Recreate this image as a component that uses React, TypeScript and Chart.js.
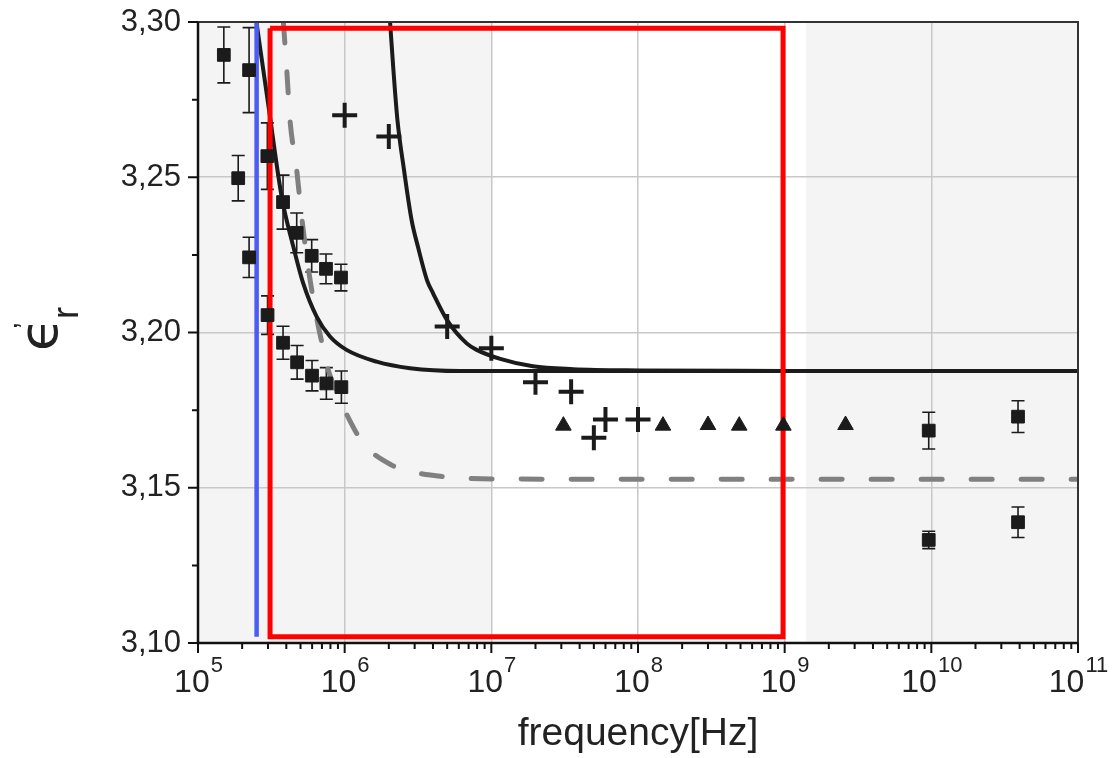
import React, { useEffect, useRef } from 'react';
import { Chart, registerables } from 'chart.js';
Chart.register(...registerables);

// ---------- axes ----------
const decadeTicks = [1e5, 1e6, 1e7, 1e8, 1e9, 1e10, 1e11];
const decadeExponents = ['5', '6', '7', '8', '9', '10', '11'];
const yTickValues = [3.10, 3.15, 3.20, 3.25, 3.30];
const yMinorValues = [3.125, 3.175, 3.225, 3.275];

// shaded background bands (frequency)
const shadedStart = [1e5, 1.4e9];
const shadedEnd = [1e7, 1e11];

// ---------- measured points ----------
const squareFreq = [1.5e5, 2.23e5, 1.88e5, 2.97e5, 3.8e5, 4.71e5, 5.96e5, 7.46e5, 9.44e5,
  2.23e5, 2.98e5, 3.8e5, 4.74e5, 5.99e5, 7.5e5, 9.5e5, 9.6e9, 3.9e10, 9.6e9, 3.9e10];
const squareValue = [3.2894, 3.2845, 3.2497, 3.2568, 3.242, 3.2321, 3.2247, 3.2205, 3.2177,
  3.2242, 3.2056, 3.1967, 3.1904, 3.1861, 3.1836, 3.1824, 3.1684, 3.1729, 3.1332, 3.1389];
const squareError = [0.009, 0.0137, 0.0073, 0.0107, 0.0087, 0.0064, 0.0052, 0.0048, 0.0043,
  0.0065, 0.0062, 0.0053, 0.0054, 0.0049, 0.0051, 0.0052, 0.0059, 0.0051, 0.0028, 0.0049];

const crossFreq = [1e6, 2e6, 5e6, 1e7, 2e7, 3.5e7, 5e7, 6e7, 1e8];
const crossValue = [3.270, 3.2631, 3.2019, 3.1949, 3.184, 3.1809, 3.1661, 3.172, 3.172];

const triangleFreq = [3.1e7, 1.48e8, 3.0e8, 4.9e8, 9.8e8, 2.6e9];
const triangleValue = [3.170, 3.170, 3.1702, 3.170, 3.170, 3.1702];

// ---------- model curves ----------
const curve1Freq = [2.51e5, 3.05e5, 3.72e5, 4.47e5, 5.22e5, 6.44e5, 7.94e5, 1.03e6, 1.65e6, 2.79e6, 6.11e6, 3.16e7, 1e9, 1e11];
const curve1Value = [3.2996, 3.2717, 3.2437, 3.2276, 3.2158, 3.2051, 3.1987, 3.1944, 3.1906, 3.1885, 3.1876, 3.1876, 3.1876, 3.1876];

const curve2Freq = [2.04e6, 2.15e6, 2.29e6, 2.54e6, 2.86e6, 3.16e6, 3.64e6, 4.0e6, 4.99e6, 6.79e6, 7.95e6, 1.15e7, 1.92e7, 3.61e7, 1.03e8, 1e9];
const curve2Value = [3.30, 3.2845, 3.2684, 3.2523, 3.2362, 3.2276, 3.2169, 3.2127, 3.2040, 3.1965, 3.1944, 3.1915, 3.1891, 3.1882, 3.1878, 3.1876];

const dashedFreq = [3.82e5, 4.03e5, 4.24e5, 4.71e5, 5.09e5, 5.65e5, 6.45e5, 6.97e5, 7.73e5, 9.01e5, 1.08e6, 1.34e6, 2.09e6, 3.02e6, 4.71e6, 1.03e7, 1e11];
const dashedValue = [3.30, 3.2845, 3.2684, 3.2523, 3.2373, 3.2207, 3.2046, 3.1970, 3.1879, 3.1799, 3.1718, 3.1643, 3.1573, 3.1549, 3.1536, 3.1528, 3.1527];

// ---------- markers (box and vertical line) ----------
const redBoxFreq = [3.1e5, 9.75e8, 9.75e8, 3.1e5, 3.1e5];
const redBoxValue = [3.298, 3.298, 3.102, 3.102, 3.298];
const blueLineFreq = [2.51e5, 2.51e5];
const blueLineValue = [3.30, 3.102];

const pts = (xs: number[], ys: number[]) => xs.map((x, i) => ({ x, y: ys[i] }));

const INK = '#1b1b1b';
const FONT = '"Liberation Sans", Arial, Helvetica, sans-serif';

const decorPlugin = {
  id: 'decor',
  beforeDraw(chart: any) {
    const { ctx, chartArea: a, scales } = chart;
    const xs = scales.x;
    ctx.save();
    ctx.fillStyle = '#f4f4f4';
    shadedStart.forEach((s, i) => {
      const x1 = xs.getPixelForValue(s);
      const x2 = xs.getPixelForValue(shadedEnd[i]);
      ctx.fillRect(x1, a.top, x2 - x1, a.bottom - a.top);
    });
    ctx.restore();
  },
  beforeDatasetsDraw(chart: any) {
    const { ctx, scales } = chart;
    const xs = scales.x, ys = scales.y;
    ctx.save();
    ctx.strokeStyle = INK;
    ctx.lineWidth = 1.6;
    squareFreq.forEach((f, i) => {
      const x = xs.getPixelForValue(f);
      const y1 = ys.getPixelForValue(squareValue[i] + squareError[i]);
      const y2 = ys.getPixelForValue(squareValue[i] - squareError[i]);
      ctx.beginPath();
      ctx.moveTo(x, y1); ctx.lineTo(x, y2);
      ctx.moveTo(x - 6.5, y1); ctx.lineTo(x + 6.5, y1);
      ctx.moveTo(x - 6.5, y2); ctx.lineTo(x + 6.5, y2);
      ctx.stroke();
    });
    ctx.restore();
  },
  afterDraw(chart: any) {
    const { ctx, chartArea: a, scales } = chart;
    const xs = scales.x, ys = scales.y;
    ctx.save();
    // frame
    ctx.strokeStyle = '#333';
    ctx.lineWidth = 2;
    ctx.beginPath();
    ctx.moveTo(a.left, a.top); ctx.lineTo(a.right, a.top); ctx.lineTo(a.right, a.bottom);
    ctx.stroke();
    ctx.strokeStyle = '#111';
    ctx.lineWidth = 2.5;
    ctx.beginPath();
    ctx.moveTo(a.left, a.top); ctx.lineTo(a.left, a.bottom); ctx.lineTo(a.right, a.bottom);
    ctx.stroke();
    // ticks
    ctx.lineWidth = 2;
    ctx.beginPath();
    yTickValues.forEach(v => { const y = ys.getPixelForValue(v); ctx.moveTo(a.left - 10, y); ctx.lineTo(a.left, y); });
    yMinorValues.forEach(v => { const y = ys.getPixelForValue(v); ctx.moveTo(a.left - 6, y); ctx.lineTo(a.left, y); });
    decadeTicks.forEach((d, i) => {
      const x = xs.getPixelForValue(d);
      ctx.moveTo(x, a.bottom); ctx.lineTo(x, a.bottom + 10);
      if (i < decadeTicks.length - 1) {
        for (let m = 2; m <= 9; m++) {
          const xm = xs.getPixelForValue(d * m);
          ctx.moveTo(xm, a.bottom); ctx.lineTo(xm, a.bottom + 6);
        }
      }
    });
    ctx.stroke();
    // x tick labels 10^n
    ctx.fillStyle = '#222';
    ctx.textBaseline = 'alphabetic';
    ctx.textAlign = 'left';
    decadeTicks.forEach((d, i) => {
      const x = xs.getPixelForValue(d);
      ctx.font = `32px ${FONT}`;
      const wb = ctx.measureText('10').width;
      ctx.font = `22px ${FONT}`;
      const ws = ctx.measureText(decadeExponents[i]).width;
      const x0 = x - (wb + ws) / 2;
      ctx.font = `32px ${FONT}`;
      ctx.fillText('10', x0, 692);
      ctx.font = `22px ${FONT}`;
      ctx.fillText(decadeExponents[i], x0 + wb + 1, 672);
    });
    // x title
    ctx.font = `39px ${FONT}`;
    ctx.textAlign = 'center';
    ctx.fillText('frequency[Hz]', (a.left + a.right) / 2, 745);
    // y title  ϵ'r rotated
    ctx.translate(57, 351);
    ctx.rotate(-Math.PI / 2);
    ctx.textAlign = 'left';
    ctx.font = `54px "DejaVu Sans", ${FONT}`;
    ctx.fillText('\u03F5', 0, 0);
    ctx.font = `30px ${FONT}`;
    ctx.fillText('\u2019', 22, -23);
    ctx.font = `36px ${FONT}`;
    ctx.fillText('r', 32, 21);
    ctx.restore();
  },
};

export default function App() {
  const ref = useRef<HTMLCanvasElement>(null);
  useEffect(() => {
    document.body.style.margin = '0';
    const canvas = ref.current!;
    const line = (data: any, color: string, width: number, extra: any = {}) => ({
      type: 'line', data, borderColor: color, borderWidth: width, pointRadius: 0, fill: false, ...extra,
    });
    const chart = new Chart(canvas, {
      type: 'line',
      data: {
        datasets: [
          { data: pts(squareFreq, squareValue), showLine: false, pointStyle: 'rect', pointRadius: 9,
            backgroundColor: INK, borderColor: INK, borderWidth: 1 },
          { data: pts(crossFreq, crossValue), showLine: false, pointStyle: 'cross', pointRadius: 12.5,
            borderColor: INK, backgroundColor: INK, borderWidth: 4 },
          { data: pts(triangleFreq, triangleValue), showLine: false, pointStyle: 'triangle', pointRadius: 9,
            backgroundColor: INK, borderColor: INK, borderWidth: 1 },
          line(pts(redBoxFreq, redBoxValue), '#ff0000', 5, { borderJoinStyle: 'miter' }),
          line(pts(blueLineFreq, blueLineValue), '#4a5cf2', 4.5),
          line(pts(curve1Freq, curve1Value), INK, 4, { cubicInterpolationMode: 'monotone' }),
          line(pts(curve2Freq, curve2Value), INK, 4, { cubicInterpolationMode: 'monotone' }),
          line(pts(dashedFreq, dashedValue), '#808080', 5, { cubicInterpolationMode: 'monotone',
            borderDash: [21, 29], borderCapStyle: 'round' }),
        ] as any,
      },
      options: {
        responsive: false,
        devicePixelRatio: 1,
        animation: false,
        events: [],
        layout: { padding: { top: 22, right: 39, left: 0, bottom: 0 } },
        plugins: { legend: { display: false }, tooltip: { enabled: false } },
        scales: {
          x: {
            type: 'logarithmic', min: 1e5, max: 1e11,
            afterBuildTicks: (s: any) => { s.ticks = decadeTicks.map(v => ({ value: v, major: true })); },
            afterFit: (s: any) => { s.height = 115; s.paddingLeft = 0; s.paddingRight = 0; },
            ticks: { display: false },
            grid: { color: '#c8c8c8', lineWidth: 1.5, drawTicks: false },
            border: { display: false },
          },
          y: {
            type: 'linear', min: 3.10, max: 3.30,
            afterBuildTicks: (s: any) => { s.ticks = yTickValues.map(v => ({ value: v })); },
            afterFit: (s: any) => { s.width = 198; s.paddingTop = 0; s.paddingBottom = 0; },
            ticks: {
              callback: (v: any) => Number(v).toFixed(2).replace('.', ','),
              font: { family: FONT, size: 31 }, color: '#222', padding: 17,
            },
            grid: { color: '#c8c8c8', lineWidth: 1.5, drawTicks: false },
            border: { display: false },
          },
        },
      } as any,
      plugins: [decorPlugin],
    });
    return () => chart.destroy();
  }, []);
  return (
    <div style={{ width: 1117, height: 758 }}>
      <canvas ref={ref} width={1117} height={758} style={{ display: 'block', width: 1117, height: 758 }} />
    </div>
  );
}
